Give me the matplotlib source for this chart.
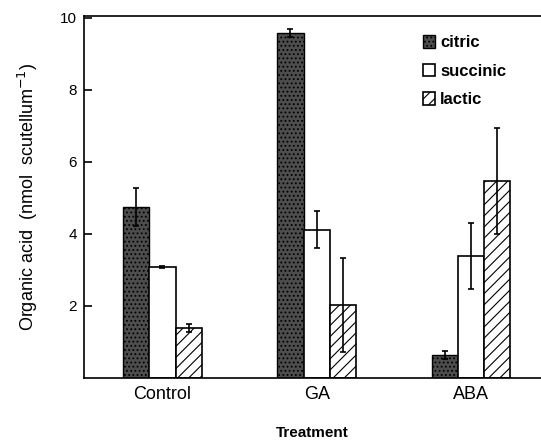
import matplotlib.pyplot as plt
import numpy as np

plt.rcParams['font.family'] = ['Liberation Sans', 'DejaVu Sans']
plt.rcParams['hatch.linewidth'] = 0.8

treatments = ['Control', 'GA', 'ABA']
acids = ['citric', 'succinic', 'lactic']

citric = [4.74, 9.57, 0.64]
citric_err = [0.52, 0.12, 0.12]
succinic = [3.07, 4.12, 3.39]
succinic_err = [0.03, 0.52, 0.92]
lactic = [1.39, 2.03, 5.47]
lactic_err = [0.12, 1.30, 1.48]

fig = plt.figure(figsize=(5.41, 4.40), dpi=100)
ax = fig.add_axes([0.155, 0.141, 0.845, 0.823])

x = np.arange(len(treatments))
w = 0.17

ax.bar(x - w, citric, w, color='#4d4d4d', edgecolor='black', hatch='....',
       linewidth=1.0, label=acids[0])
ax.bar(x, succinic, w, color='white', edgecolor='black',
       linewidth=1.2, label=acids[1])
ax.bar(x + w, lactic, w, color='white', edgecolor='black', hatch='///',
       linewidth=1.2, label=acids[2])

ekw = dict(fmt='none', ecolor='black', elinewidth=1.2, capsize=2, capthick=1.2)
ax.errorbar(x - w, citric, yerr=citric_err, **ekw)
ax.errorbar(x, succinic, yerr=succinic_err, **ekw)
ax.errorbar(x + w, lactic, yerr=lactic_err, **ekw)

ax.set_xlim(-0.51, 2.455)
ax.set_ylim(0, 10.05)
ax.set_yticks([2, 4, 6, 8, 10])
ax.set_yticklabels(['2', '4', '6', '8', '10'], fontsize=11)
ax.set_xticks(x)
ax.set_xticklabels(treatments, fontsize=13)
ax.tick_params(axis='y', direction='in', length=6, width=1.2, pad=5)
ax.tick_params(axis='x', length=0, pad=6)

ax.spines['right'].set_visible(False)
for s in ['left', 'top', 'bottom']:
    ax.spines[s].set_linewidth(1.2)

ax.set_ylabel('Organic acid  (nmol  scutellum$^{-1}$)', fontsize=13, labelpad=14)
ax.set_xlabel('Treatment', fontsize=11, fontweight='bold', labelpad=16)

ax.legend(loc='upper left', bbox_to_anchor=(0.728, 0.965), frameon=False,
          prop={'size': 12, 'weight': 'bold'}, handlelength=0.7,
          handleheight=0.8, handletextpad=0.3, labelspacing=0.8,
          borderaxespad=0)

fig.savefig('out.png', dpi=100)
